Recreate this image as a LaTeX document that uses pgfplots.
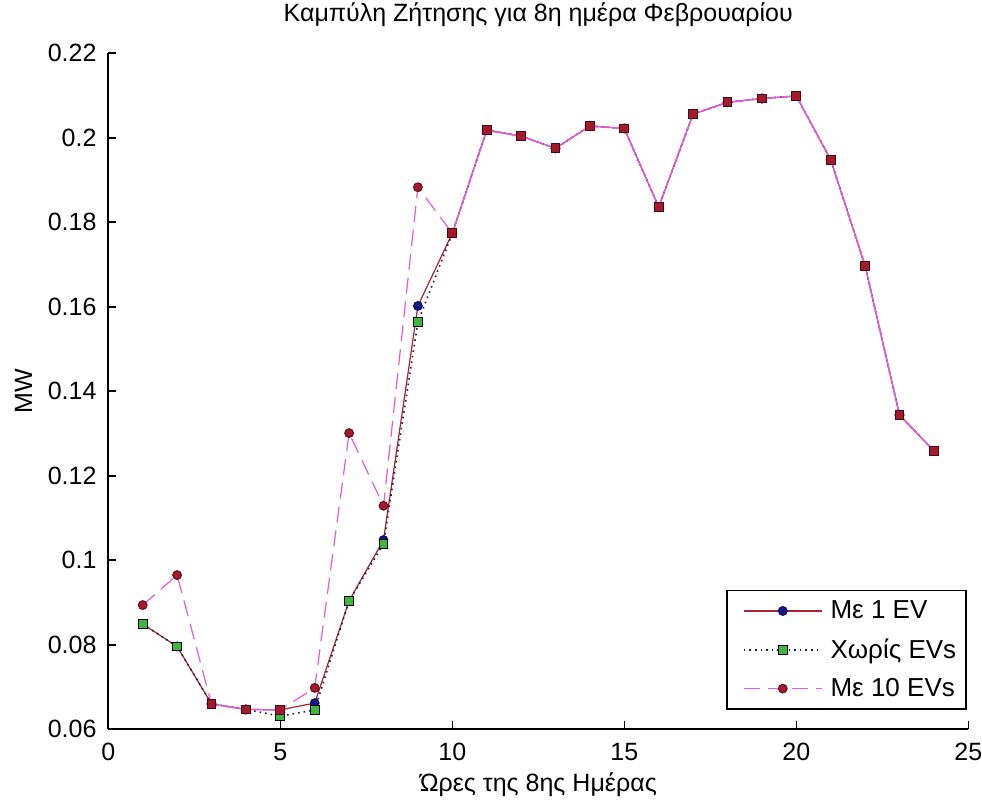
\documentclass[border=0pt]{standalone}
\usepackage{pgfplots}
\pgfplotsset{compat=1.18}
\usepackage{pgfplotstable}
\usepackage{fontspec}
\setmainfont{Liberation Sans}
\usetikzlibrary{calc}

\definecolor{evline}{RGB}{165,35,50}
\definecolor{evblue}{RGB}{20,20,140}
\definecolor{nogreen}{RGB}{60,185,60}
\definecolor{nodot}{RGB}{30,30,70}
\definecolor{tenmag}{RGB}{225,90,225}
\definecolor{tenred}{RGB}{165,25,45}

\pgfplotstableread{
x  one     none    ten
1  0.0849  0.0849  0.0894
2  0.0796  0.0796  0.0965
3  0.0660  0.0660  0.0660
4  0.0647  0.0647  0.0647
5  0.0646  0.0631  0.0646
6  0.0662  0.0646  0.0698
7  0.0904  0.0904  0.1301
8  0.1048  0.1039  0.1129
9  0.1602  0.1564  0.1883
10 0.1774  0.1774  0.1774
11 0.2018  0.2018  0.2018
12 0.2004  0.2004  0.2004
13 0.1975  0.1975  0.1975
14 0.2028  0.2028  0.2028
15 0.2022  0.2022  0.2022
16 0.1836  0.1836  0.1836
17 0.2056  0.2056  0.2056
18 0.2084  0.2084  0.2084
19 0.2093  0.2093  0.2093
20 0.2099  0.2099  0.2099
21 0.1948  0.1948  0.1948
22 0.1697  0.1697  0.1697
23 0.1344  0.1344  0.1344
24 0.1259  0.1259  0.1259
}\demand

\pgfplotstableread{
x  y
3  0.0660
4  0.0647
5  0.0646
6  nan
10 0.1774
11 0.2018
12 0.2004
13 0.1975
14 0.2028
15 0.2022
16 0.1836
17 0.2056
18 0.2084
19 0.2093
20 0.2099
21 0.1948
22 0.1697
23 0.1344
24 0.1259
}\common

\begin{document}
\begin{tikzpicture}
\begin{axis}[name=ax, scale only axis, width=430pt, height=338pt,
  xmin=0, xmax=25, ymin=0.06, ymax=0.22,
  axis x line*=bottom, axis y line*=left,
  axis line style={line width=0.8pt, black},
  xtick={0,5,10,15,20,25},
  ytick={0.06,0.08,0.1,0.12,0.14,0.16,0.18,0.2,0.22},
  scaled y ticks=false,
  yticklabel style={/pgf/number format/fixed, /pgf/number format/precision=2},
  /pgf/number format/assume math mode=true,
  major tick length=4pt, tick style={line width=0.8pt, black},
  font=\fontsize{12.5}{15}\selectfont,
  xticklabel style={anchor=base, yshift=-15.4pt, inner sep=0pt},
  yticklabel style={anchor=east, inner sep=0pt, xshift=-5.7pt},
  every axis title shift=0pt,
  title={Καμπύλη Ζήτησης για 8η ημέρα Φεβρουαρίου},
  title style={at={(axis description cs:0.5,1.0473)}, anchor=base, inner sep=0pt},
  xlabel={Ώρες της 8ης Ημέρας},
  xlabel style={at={(axis description cs:0.5,-0.0913)}, anchor=base, inner sep=0pt},
  ylabel={MW},
  ylabel style={at={(axis description cs:-0.0887,0.5)}, anchor=base, inner sep=0pt},
  legend style={at={(axis description cs:0.9985,0.0286)}, anchor=south east,
    draw=black, line width=0.8pt, font=\fontsize{13}{15}\selectfont,
    inner xsep=3pt, inner ysep=3pt, row sep=4.5pt},
  legend cell align=left,
  legend image code/.code={\path (-5pt,0pt) (41pt,0pt);\draw[mark repeat=2, mark phase=2] plot coordinates {(0pt,0pt) (19.5pt,0pt) (39pt,0pt)};},
  unbounded coords=jump,
]
\addplot[evline, line width=0.6pt, mark=*, mark size=2.2pt,
  mark options={solid, fill=evblue, draw=evblue!60!black, line width=0.5pt}] table[x=x, y=one] {\demand};
\addlegendentry{Με 1 EV}
\addplot[nodot, dotted, line width=0.8pt, mark=square*, mark size=2.2pt,
  mark options={solid, fill=nogreen, draw=black, line width=0.5pt}] table[x=x, y=none] {\demand};
\addlegendentry{Χωρίς EVs}
\addplot[tenmag, dash pattern=on 8pt off 4pt, line width=0.6pt, mark=*, mark size=2.2pt,
  mark options={solid, fill=tenred, draw=tenred!60!black, line width=0.5pt}] table[x=x, y=ten] {\demand};
\addlegendentry{Με 10 EVs}
\addplot[tenmag, line width=0.6pt, mark=square*, mark size=2.2pt, forget plot,
  mark options={solid, fill=tenred, draw=tenred!40!black, line width=0.5pt}] table[x=x, y=y] {\common};
\end{axis}
\pgfresetboundingbox
\path[use as bounding box] ($(ax.south west)+(-54.15pt,-35.35pt)$) rectangle ($(ax.north east)+(6.85pt,26.65pt)$);
\end{tikzpicture}
\end{document}
